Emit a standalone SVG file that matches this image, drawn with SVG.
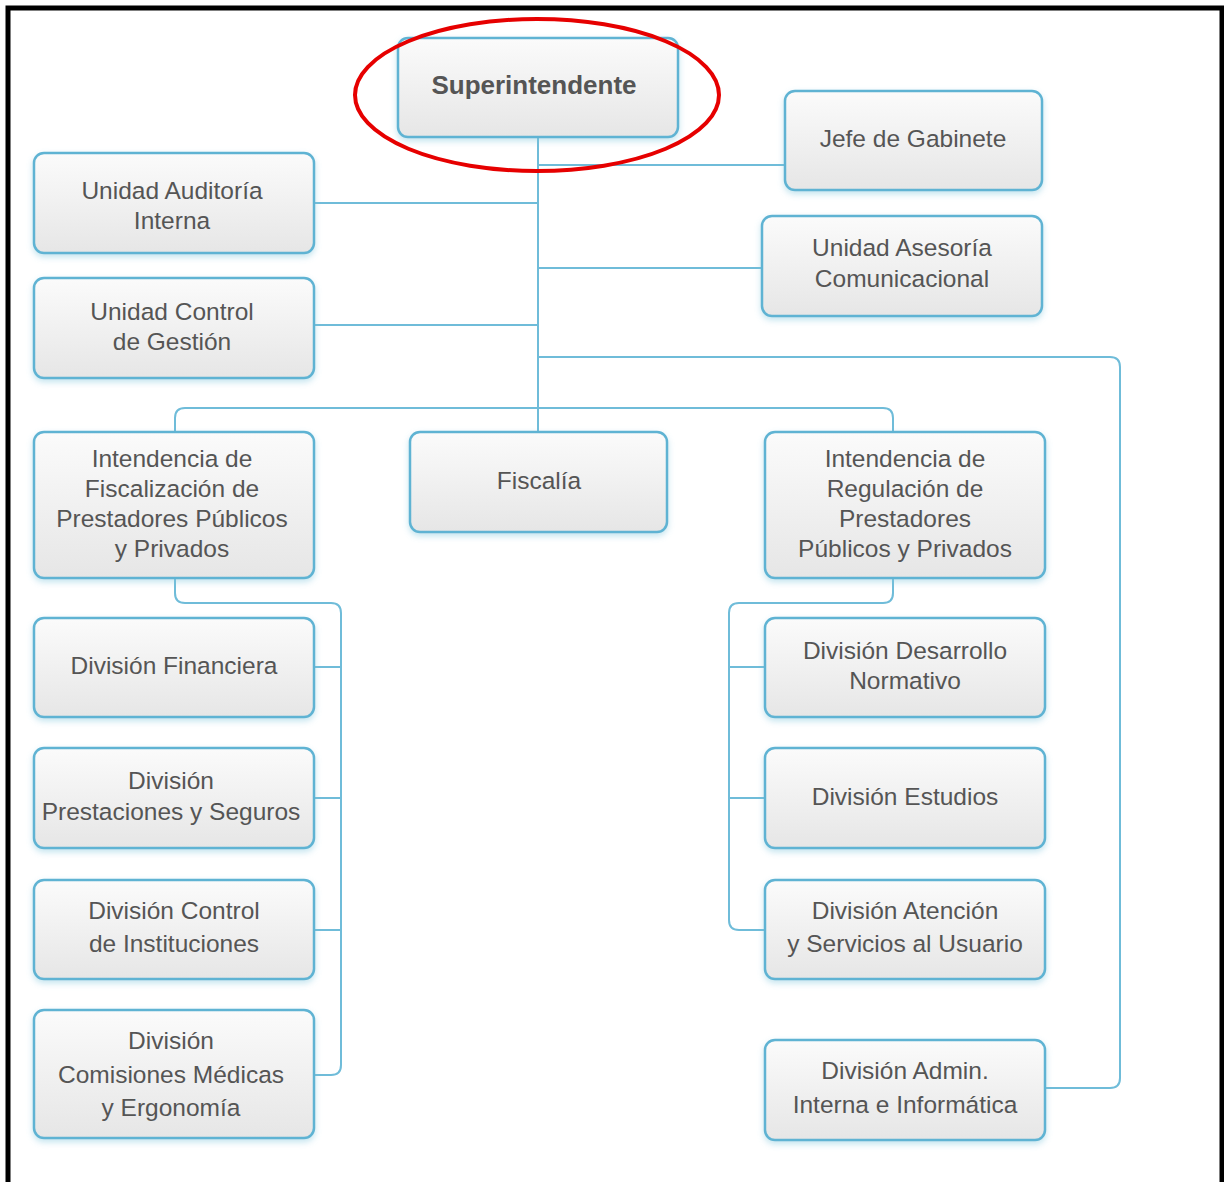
<svg xmlns="http://www.w3.org/2000/svg" width="1224" height="1182" viewBox="0 0 1224 1182">
<defs>
<linearGradient id="g" x1="0" y1="0" x2="0" y2="1">
<stop offset="0" stop-color="#fbfbfb"/>
<stop offset="1" stop-color="#e6e6e6"/>
</linearGradient>
<filter id="sh" x="-10%" y="-10%" width="120%" height="130%">
<feDropShadow dx="0" dy="3" stdDeviation="3" flood-color="#7fc4dc" flood-opacity="0.45"/>
</filter>
</defs>
<style>
.box{fill:url(#g);stroke:#5fb3d3;stroke-width:2.5;filter:url(#sh)}
.t{font-family:"Liberation Sans",Arial,sans-serif;font-size:24.5px;fill:#555;text-anchor:middle}
.b{font-weight:bold;font-size:26px}
.c{fill:none;stroke:#6fbcd9;stroke-width:2}
</style>
<rect width="1224" height="1182" fill="#fff"/>
<path d="M8 1182 V8 H1222 V1182" fill="none" stroke="#000" stroke-width="5"/>
<g id="connectors">
<path class="c" d="M538 137 V432"/>
<path class="c" d="M538 165 H785"/>
<path class="c" d="M314 203 H538"/>
<path class="c" d="M538 268 H762"/>
<path class="c" d="M314 325 H538"/>
<path class="c" d="M538 357 H1110 Q1120 357 1120 367 V1078 Q1120 1088 1110 1088 H1045"/>
<path class="c" d="M175 432 V418 Q175 408 185 408 H883 Q893 408 893 418 V432"/>
<path class="c" d="M175 578 V593 Q175 603 185 603 H331 Q341 603 341 613 V1065 Q341 1075 331 1075 H314"/>
<path class="c" d="M314 667 H341 M314 798 H341 M314 930 H341"/>
<path class="c" d="M893 578 V593 Q893 603 883 603 H739 Q729 603 729 613 V920 Q729 930 739 930 H765"/>
<path class="c" d="M729 667 H765 M729 798 H765"/>
</g>
<g id="n-superintendente"><rect class="box" x="398" y="38" width="280" height="99" rx="10"/><text class="t b" x="534" y="94">Superintendente</text></g>
<g id="n-jefe"><rect class="box" x="785" y="91" width="257" height="99" rx="10"/><text class="t" x="913" y="147">Jefe de Gabinete</text></g>
<g id="n-auditoria"><rect class="box" x="34" y="153" width="280" height="100" rx="10"/><text class="t" x="172" y="199">Unidad Auditoría</text><text class="t" x="172" y="229">Interna</text></g>
<g id="n-asesoria"><rect class="box" x="762" y="216" width="280" height="100" rx="10"/><text class="t" x="902" y="256">Unidad Asesoría</text><text class="t" x="902" y="287">Comunicacional</text></g>
<g id="n-control-gestion"><rect class="box" x="34" y="278" width="280" height="100" rx="10"/><text class="t" x="172" y="320">Unidad Control</text><text class="t" x="172" y="350">de Gestión</text></g>
<g id="n-int-fiscalizacion"><rect class="box" x="34" y="432" width="280" height="146" rx="10"/><text class="t" x="172" y="467">Intendencia de</text><text class="t" x="172" y="497">Fiscalización de</text><text class="t" x="172" y="527">Prestadores Públicos</text><text class="t" x="172" y="557">y Privados</text></g>
<g id="n-fiscalia"><rect class="box" x="410" y="432" width="257" height="100" rx="10"/><text class="t" x="539" y="489">Fiscalía</text></g>
<g id="n-int-regulacion"><rect class="box" x="765" y="432" width="280" height="146" rx="10"/><text class="t" x="905" y="467">Intendencia de</text><text class="t" x="905" y="497">Regulación de</text><text class="t" x="905" y="527">Prestadores</text><text class="t" x="905" y="557">Públicos y Privados</text></g>
<g id="n-financiera"><rect class="box" x="34" y="618" width="280" height="99" rx="10"/><text class="t" x="174" y="674">División Financiera</text></g>
<g id="n-prestaciones"><rect class="box" x="34" y="748" width="280" height="100" rx="10"/><text class="t" x="171" y="789">División</text><text class="t" x="171" y="820">Prestaciones y Seguros</text></g>
<g id="n-control-inst"><rect class="box" x="34" y="880" width="280" height="99" rx="10"/><text class="t" x="174" y="919">División Control</text><text class="t" x="174" y="952">de Instituciones</text></g>
<g id="n-comisiones"><rect class="box" x="34" y="1010" width="280" height="128" rx="10"/><text class="t" x="171" y="1049">División</text><text class="t" x="171" y="1083">Comisiones Médicas</text><text class="t" x="171" y="1116">y Ergonomía</text></g>
<g id="n-desarrollo"><rect class="box" x="765" y="618" width="280" height="99" rx="10"/><text class="t" x="905" y="659">División Desarrollo</text><text class="t" x="905" y="689">Normativo</text></g>
<g id="n-estudios"><rect class="box" x="765" y="748" width="280" height="100" rx="10"/><text class="t" x="905" y="805">División Estudios</text></g>
<g id="n-atencion"><rect class="box" x="765" y="880" width="280" height="99" rx="10"/><text class="t" x="905" y="919">División Atención</text><text class="t" x="905" y="952">y Servicios al Usuario</text></g>
<g id="n-admin"><rect class="box" x="765" y="1040" width="280" height="100" rx="10"/><text class="t" x="905" y="1079">División Admin.</text><text class="t" x="905" y="1113">Interna e Informática</text></g>
<ellipse cx="537" cy="95" rx="182" ry="76" fill="none" stroke="#e60000" stroke-width="4"/>
</svg>
